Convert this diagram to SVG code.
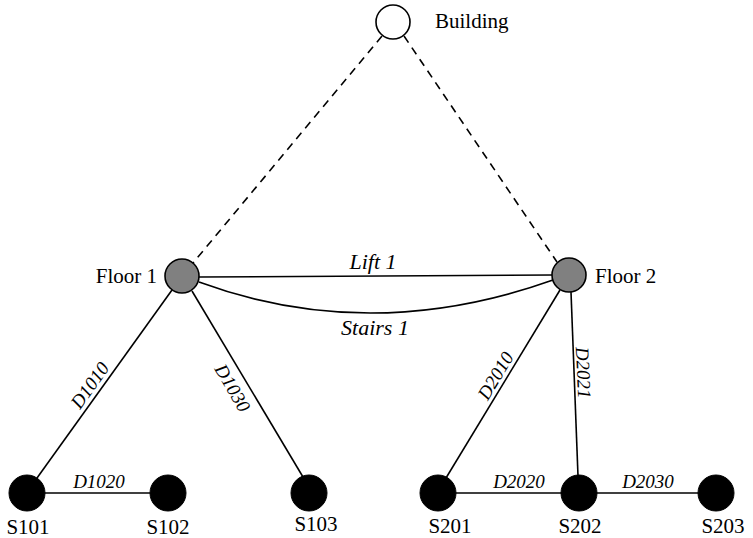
<svg xmlns="http://www.w3.org/2000/svg" width="753" height="538" viewBox="0 0 753 538">
<style>
.e{stroke:#000;stroke-width:1.6;fill:none}
.d{stroke-dasharray:8 6}
text{font-family:"Liberation Serif","Times New Roman",Times,serif;fill:#000}
.t{font-size:21px}
.el{font-size:19px;font-style:italic}
.lbl{font-size:22px;font-style:italic}
.s{fill:#000;stroke:#000;stroke-width:1}
.f{fill:#808080;stroke:#000;stroke-width:1.6}
.b{fill:#fff;stroke:#000;stroke-width:1.6}
</style>
<rect width="753" height="538" fill="#fff"/>
<g id="connectors">
<line class="e d" x1="382" y1="36" x2="193" y2="263"/>
<line class="e d" x1="404" y1="36" x2="557" y2="262"/>
<line class="e" x1="199" y1="277" x2="552" y2="275"/>
<path class="e" d="M199,282 Q370,345 553,280"/>
<line class="e" x1="172" y1="290" x2="37" y2="478"/>
<line class="e" x1="192" y1="291" x2="303" y2="477"/>
<line class="e" x1="560" y1="290" x2="446" y2="478"/>
<line class="e" x1="571" y1="292" x2="578" y2="476"/>
<line class="e" x1="45" y1="493" x2="150" y2="493"/>
<line class="e" x1="456" y1="493" x2="698" y2="493"/>
<text class="lbl" x="373" y="269" text-anchor="middle">Lift 1</text>
<text class="lbl" x="375" y="335" text-anchor="middle">Stairs 1</text>
<text class="el" transform="translate(95,389) rotate(-54.5)" text-anchor="middle">D1010</text>
<text class="el" transform="translate(227,391) rotate(59.7)" text-anchor="middle">D1030</text>
<text class="el" transform="translate(501,379) rotate(-59)" text-anchor="middle">D2010</text>
<text class="el" transform="translate(577,373) rotate(87.4)" text-anchor="middle">D2021</text>
<text class="el" x="99" y="488" text-anchor="middle">D1020</text>
<text class="el" x="519" y="488" text-anchor="middle">D2020</text>
<text class="el" x="648" y="488" text-anchor="middle">D2030</text>
</g>
<g id="building"><circle class="b" cx="393" cy="22" r="17"/><text class="t" x="435" y="28">Building</text></g>
<g id="floor1"><circle class="f" cx="182" cy="276" r="17"/><text class="t" x="157" y="283" text-anchor="end" font-size="22">Floor 1</text></g>
<g id="floor2"><circle class="f" cx="569" cy="275" r="17"/><text class="t" x="595" y="283">Floor 2</text></g>
<g id="s101"><circle class="s" cx="27" cy="493" r="18"/><text class="t" x="28" y="534" text-anchor="middle">S101</text></g>
<g id="s102"><circle class="s" cx="168" cy="493" r="18"/><text class="t" x="168" y="534" text-anchor="middle">S102</text></g>
<g id="s103"><circle class="s" cx="309" cy="493" r="18"/><text class="t" x="316" y="531" text-anchor="middle">S103</text></g>
<g id="s201"><circle class="s" cx="438" cy="493" r="18"/><text class="t" x="450" y="533" text-anchor="middle">S201</text></g>
<g id="s202"><circle class="s" cx="579" cy="493" r="18"/><text class="t" x="580" y="533" text-anchor="middle">S202</text></g>
<g id="s203"><circle class="s" cx="716" cy="493" r="18"/><text class="t" x="723" y="533" text-anchor="middle">S203</text></g>
</svg>
